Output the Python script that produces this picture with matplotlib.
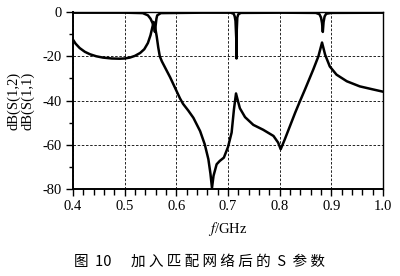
import matplotlib
matplotlib.use("Agg")
import matplotlib.pyplot as plt
from matplotlib.ticker import MultipleLocator

# S(1,1): reflection
s11_f = [0.400, 0.405, 0.413, 0.423, 0.433, 0.445, 0.458, 0.475, 0.490, 0.500,
         0.510, 0.520, 0.530, 0.538, 0.545, 0.550, 0.553, 0.556, 0.559, 0.562,
         0.565, 0.568, 0.572, 0.578, 0.588, 0.595, 0.601, 0.607, 0.613, 0.623,
         0.633, 0.646, 0.655, 0.662, 0.666, 0.669, 0.672, 0.678, 0.684, 0.692,
         0.700, 0.707, 0.7115, 0.7155, 0.719, 0.723, 0.733, 0.749, 0.768, 0.788,
         0.797, 0.802, 0.810, 0.820, 0.830, 0.838, 0.849, 0.865, 0.875, 0.882,
         0.888, 0.897, 0.910, 0.930, 0.955, 0.981, 1.000]
s11_db = [-12.5, -14.3, -16.3, -18.0, -19.1, -20.0, -20.6, -21.0, -21.1, -21.0,
          -20.6, -19.8, -18.5, -16.8, -14.0, -10.5, -7.5, -4.5, -7.0, -11.0,
          -16.0, -20.0, -22.3, -25.0, -29.5, -33.0, -36.0, -39.0, -41.5, -44.5,
          -47.8, -53.8, -59.8, -66.5, -73.0, -79.5, -74.0, -68.8, -67.3, -65.8,
          -61.0, -54.5, -44.0, -36.8, -40.0, -43.5, -47.5, -51.0, -53.2, -56.0,
          -59.0, -62.0, -57.5, -51.5, -45.5, -41.0, -35.0, -26.0, -20.0, -13.8,
          -19.3, -24.6, -28.3, -31.3, -33.6, -35.0, -36.0]

# S(1,2): transmission, near 0 dB with three notches
s12_f = [0.400, 0.500, 0.535, 0.545, 0.550, 0.554, 0.557, 0.5585, 0.560, 0.5615,
         0.563, 0.570, 0.650, 0.705, 0.711, 0.713, 0.7145, 0.7160, 0.7165, 0.7170,
         0.718, 0.720, 0.725, 0.800, 0.870, 0.877, 0.880, 0.882, 0.8835, 0.885,
         0.887, 0.890, 0.900, 1.000]
s12_db = [-0.3, -0.3, -0.5, -1.5, -3.0, -5.0, -7.0, -9.0, -6.0, -3.0,
          -1.5, -0.5, -0.3, -0.3, -0.8, -2.0, -4.0, -12.0, -21.0, -8.0,
          -2.5, -1.0, -0.4, -0.3, -0.4, -1.0, -2.5, -5.0, -9.0, -4.5,
          -2.0, -0.8, -0.4, -0.3]

x_ticks = [0.4, 0.5, 0.6, 0.7, 0.8, 0.9, 1.0]
x_tick_labels = ["0.4", "0.5", "0.6", "0.7", "0.8", "0.9", "1.0"]
y_ticks = [0, -20, -40, -60, -80]
y_tick_labels = ["0", "-20", "-40", "-60", "-80"]

plt.rcParams['font.family'] = 'Liberation Serif'
plt.rcParams['mathtext.fontset'] = 'stix'

fig = plt.figure(figsize=(4.0, 2.76), dpi=100)
ax = fig.add_axes([0.1825, 0.315, 0.775, 0.6415])

ax.plot(s11_f, s11_db, color='black', lw=1.8)
ax.plot(s12_f, s12_db, color='black', lw=1.8)

ax.set_xlim(0.4, 1.0)
ax.set_ylim(-80, 0)
ax.set_xticks(x_ticks)
ax.set_xticklabels(x_tick_labels)
ax.set_yticks(y_ticks)
ax.set_yticklabels(y_tick_labels)
ax.xaxis.set_minor_locator(MultipleLocator(0.02))
ax.yaxis.set_minor_locator(MultipleLocator(10))
ax.tick_params(which='major', direction='out', length=5, width=1.0,
               labelsize=10.5, pad=3, colors='black')
ax.tick_params(which='minor', direction='out', length=4, width=1.0)
ax.tick_params(axis='y', which='minor', length=3)

ax.grid(True, which='major', color='black', linestyle=(0, (3, 2)), linewidth=0.6)

for side in ['left', 'bottom']:
    ax.spines[side].set_linewidth(1.4)
for side in ['top', 'right']:
    ax.spines[side].set_linewidth(1.0)

ax.set_xlabel('$f$/GHz', fontsize=10.5, labelpad=5)
ax.set_ylabel('dB(S(1,2)\ndB(S(1,1)', fontsize=10.5, labelpad=6, linespacing=1.05)

fig.text(0.5, 0.05, '图  10      加 入 匹 配 网 络 后 的  S  参 数',
         ha='center', va='center', fontsize=10.5,
         family=['Noto Sans CJK SC', 'DejaVu Sans'])

fig.savefig('out.png', dpi=100)
